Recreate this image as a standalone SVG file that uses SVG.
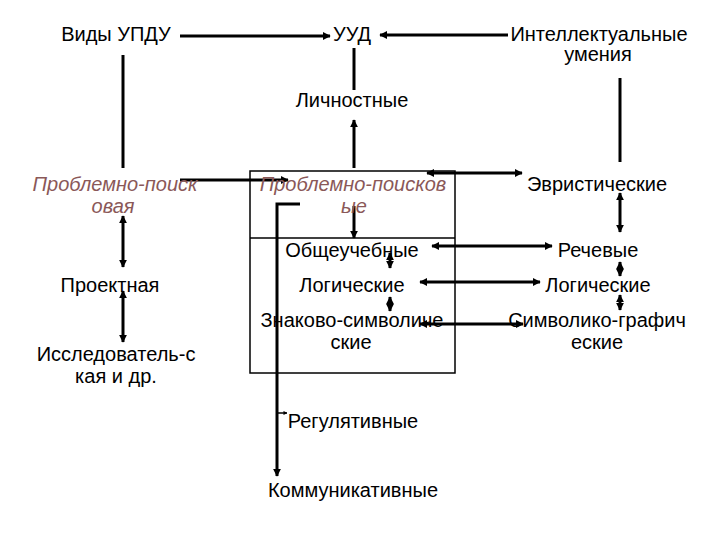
<svg xmlns="http://www.w3.org/2000/svg" width="720" height="540" viewBox="0 0 720 540">
<defs>
<style>
text{font-family:"Liberation Sans",Arial,sans-serif;font-size:20px;fill:#000;text-anchor:middle}
.it{font-style:italic;fill:#8a5858}
.ln{stroke:#000;stroke-width:3;fill:none}
.bx{stroke:#000;stroke-width:1.5;fill:#fff}
</style>
<marker id="ah" viewBox="0 0 10 10" refX="9" refY="5" markerWidth="2.6" markerHeight="2.6" orient="auto-start-reverse">
<path d="M0,0 L10,5 L0,10 z" fill="#000"/>
</marker>
</defs>
<rect width="720" height="540" fill="#fff"/>
<g id="box"><rect class="bx" x="250" y="171" width="205" height="202"/><line class="bx" x1="250" y1="238" x2="455" y2="238"/></g>
<g id="connectors">
<line class="ln" x1="180" y1="36" x2="330" y2="36" marker-end="url(#ah)"/>
<line class="ln" x1="508" y1="35" x2="380" y2="35" marker-end="url(#ah)"/>
<line class="ln" x1="354" y1="48" x2="354" y2="90"/>
<line class="ln" x1="354" y1="168" x2="354" y2="120" marker-end="url(#ah)"/>
<line class="ln" x1="123" y1="55" x2="123" y2="168"/>
<line class="ln" x1="620" y1="78" x2="620" y2="162"/>
<line class="ln" x1="180" y1="180" x2="288" y2="180" marker-end="url(#ah)"/>
<line class="ln" x1="427" y1="173" x2="522" y2="173" marker-start="url(#ah)" marker-end="url(#ah)"/>
<line class="ln" x1="432" y1="246" x2="552" y2="246" marker-start="url(#ah)" marker-end="url(#ah)"/>
<line class="ln" x1="420" y1="282" x2="540" y2="282" marker-start="url(#ah)" marker-end="url(#ah)"/>
<line class="ln" x1="420" y1="324" x2="523" y2="324" marker-start="url(#ah)" marker-end="url(#ah)"/>
<line class="ln" x1="354" y1="206" x2="354" y2="238" marker-end="url(#ah)"/>
<line class="ln" x1="390" y1="253" x2="390" y2="268" marker-start="url(#ah)" marker-end="url(#ah)"/>
<line class="ln" x1="390" y1="297" x2="390" y2="311" marker-start="url(#ah)" marker-end="url(#ah)"/>
<line class="ln" x1="620" y1="193" x2="620" y2="232" marker-start="url(#ah)" marker-end="url(#ah)"/>
<line class="ln" x1="620" y1="262" x2="620" y2="276" marker-start="url(#ah)" marker-end="url(#ah)"/>
<line class="ln" x1="620" y1="295" x2="620" y2="310" marker-start="url(#ah)" marker-end="url(#ah)"/>
<line class="ln" x1="123" y1="216" x2="123" y2="267" marker-start="url(#ah)" marker-end="url(#ah)"/>
<line class="ln" x1="123" y1="291" x2="123" y2="342" marker-start="url(#ah)" marker-end="url(#ah)"/>
<polyline class="ln" points="300,204 277,204 277,476" marker-end="url(#ah)"/>
<line stroke="#000" stroke-width="1.5" x1="278" y1="413" x2="287" y2="413" marker-end="url(#ah)"/>
</g>
<g id="n1"><text x="116" y="41">Виды УПДУ</text></g>
<g id="n2"><text x="352" y="41">УУД</text></g>
<g id="n3"><text x="599" y="41">Интеллектуальные</text><text x="598" y="61">умения</text></g>
<g id="n4"><text x="352" y="107">Личностные</text></g>
<g id="n5"><text class="it" x="115" y="191">Проблемно-поиск</text><text class="it" x="113" y="213">овая</text></g>
<g id="n6"><text class="it" x="353" y="191">Проблемно-поисков</text><text class="it" x="354" y="213">ые</text></g>
<g id="n7"><text x="597" y="191">Эвристические</text></g>
<g id="n8"><text x="352" y="257">Общеучебные</text></g>
<g id="n9"><text x="598" y="257">Речевые</text></g>
<g id="n10"><text x="110" y="292">Проектная</text></g>
<g id="n11"><text x="352" y="292">Логические</text></g>
<g id="n12"><text x="598" y="292">Логические</text></g>
<g id="n13"><text x="352" y="327">Знаково-символиче</text><text x="351" y="349">ские</text></g>
<g id="n14"><text x="597" y="327">Символико-графич</text><text x="597" y="349">еские</text></g>
<g id="n15"><text x="116" y="361">Исследователь-с</text><text x="116" y="383">кая и др.</text></g>
<g id="n16"><text x="353" y="428">Регулятивные</text></g>
<g id="n17"><text x="353" y="497">Коммуникативные</text></g>
</svg>
